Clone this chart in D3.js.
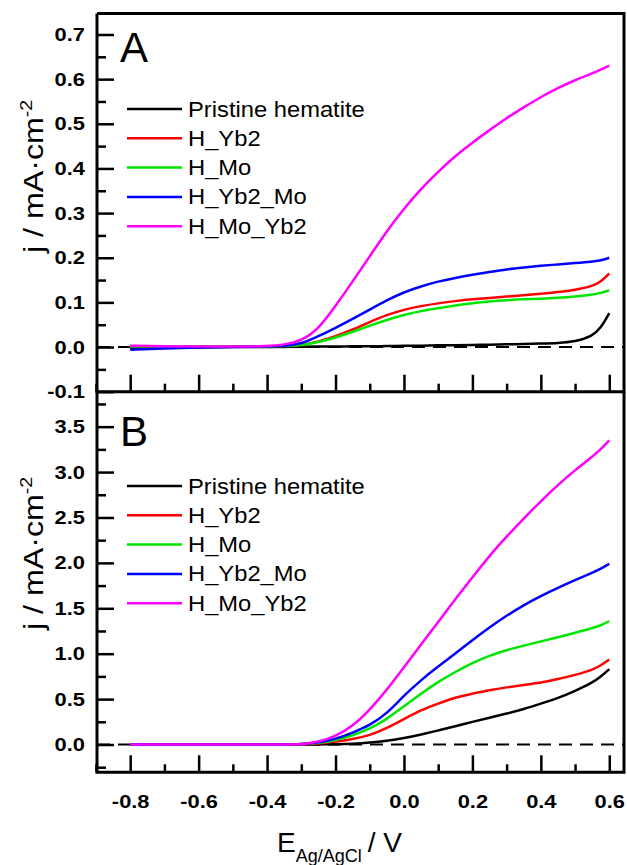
<!DOCTYPE html>
<html>
<head>
<meta charset="utf-8">
<script src="https://d3js.org/d3.v7.min.js"></script>
<style>
	body { margin: 0; background: #fff; }
	svg text { font-family: "Liberation Sans", Arial, sans-serif; fill: #000; }
	.axis path { display: none; }
	.axis line { stroke: #000; stroke-width: 2.5px; }
	.curve { fill: none; stroke-width: 2.5px; stroke-linejoin: round; }
</style>
</head>
<body>
<script>
// potential (V vs Ag/AgCl)
var potential = [-0.8, -0.7, -0.6, -0.5, -0.4, -0.35, -0.3, -0.25, -0.2, -0.15, -0.1, -0.05, 0,
	0.05, 0.1, 0.15, 0.2, 0.25, 0.3, 0.35, 0.4, 0.45, 0.5, 0.55, 0.575, 0.6];

var seriesNames = ["Pristine hematite", "H_Yb2", "H_Mo", "H_Yb2_Mo", "H_Mo_Yb2"];
var seriesColors = ["#000000", "#ff0000", "#00e600", "#0000ff", "#ff00ff"];

// panel A, j / mA cm-2
var pristineA = [-0.002, -0.001, -0.001, 0, 0, 0, 0.001, 0.001, 0.001, 0.002, 0.002, 0.002, 0.003,
	0.003, 0.004, 0.004, 0.005, 0.005, 0.006, 0.007, 0.008, 0.009, 0.012, 0.024, 0.042, 0.076];
var yb2A = [0.002, 0.001, 0.001, 0.001, 0.001, 0.002, 0.004, 0.012, 0.024, 0.039, 0.056, 0.072, 0.084,
	0.092, 0.098, 0.103, 0.107, 0.11, 0.113, 0.116, 0.119, 0.123, 0.128, 0.136, 0.146, 0.165];
var moA = [0.001, 0.001, 0.001, 0.001, 0.001, 0.002, 0.004, 0.011, 0.021, 0.034, 0.048, 0.061, 0.072,
	0.081, 0.087, 0.093, 0.098, 0.102, 0.105, 0.107, 0.108, 0.11, 0.113, 0.117, 0.121, 0.127];
var yb2MoA = [-0.006, -0.003, -0.001, 0, 0.001, 0.002, 0.007, 0.024, 0.043, 0.063, 0.084, 0.105, 0.123,
	0.136, 0.147, 0.155, 0.162, 0.168, 0.174, 0.178, 0.182, 0.185, 0.188, 0.191, 0.194, 0.2];
var moYb2A = [0.003, 0.002, 0.001, 0.001, 0.002, 0.005, 0.014, 0.04, 0.092, 0.147, 0.203, 0.26, 0.31,
	0.355, 0.393, 0.428, 0.458, 0.486, 0.513, 0.537, 0.56, 0.58, 0.598, 0.613, 0.621, 0.63];

// panel B, j / mA cm-2
var pristineB = [0, 0, 0, 0, 0, 0, 0, 0.001, 0.003, 0.008, 0.02, 0.04, 0.07,
	0.11, 0.155, 0.2, 0.25, 0.295, 0.34, 0.39, 0.45, 0.51, 0.59, 0.68, 0.745, 0.83];
var yb2B = [0, 0, 0, 0, 0, 0, 0.002, 0.01, 0.03, 0.06, 0.1, 0.18, 0.28,
	0.38, 0.45, 0.52, 0.56, 0.6, 0.63, 0.655, 0.68, 0.72, 0.765, 0.82, 0.87, 0.935];
var moB = [0, 0, 0, 0, 0, 0, 0.003, 0.015, 0.045, 0.1, 0.17, 0.28, 0.42,
	0.56, 0.69, 0.8, 0.9, 0.98, 1.04, 1.09, 1.135, 1.18, 1.23, 1.28, 1.31, 1.36];
var yb2MoB = [0, 0, 0, 0, 0, 0, 0.003, 0.02, 0.06, 0.13, 0.21, 0.34, 0.54,
	0.71, 0.86, 1.0, 1.15, 1.29, 1.42, 1.535, 1.635, 1.725, 1.81, 1.89, 1.935, 1.99];
var moYb2B = [0, 0, 0, 0, 0, 0, 0.003, 0.025, 0.09, 0.2, 0.38, 0.6, 0.85,
	1.1, 1.35, 1.6, 1.84, 2.08, 2.29, 2.49, 2.68, 2.86, 3.02, 3.17, 3.25, 3.35];

var xMajor = [-0.8, -0.6, -0.4, -0.2, 0, 0.2, 0.4, 0.6];
var xMinor = [-0.9, -0.7, -0.5, -0.3, -0.1, 0.1, 0.3, 0.5];
var yMajorA = [-0.1, 0, 0.1, 0.2, 0.3, 0.4, 0.5, 0.6, 0.7];
var yMinorA = [-0.05, 0.05, 0.15, 0.25, 0.35, 0.45, 0.55, 0.65];
var yMajorB = [0, 0.5, 1, 1.5, 2, 2.5, 3, 3.5];
var yMinorB = [-0.25, 0.25, 0.75, 1.25, 1.75, 2.25, 2.75, 3.25, 3.75];

var width = 627, height = 865;
var left = 97, right = 624;
var topA = 13.5, bottomA = 391.7, bottomB = 772.3;

var svg = d3.select("body").append("svg")
	.attr("width", width)
	.attr("height", height);

var x = d3.scaleLinear().domain([-0.897, 0.643]).range([left, right]);
var yA = d3.scaleLinear().domain([-0.1, 0.747]).range([bottomA, topA]);
var yB = d3.scaleLinear().domain([-0.306, 3.885]).range([bottomB, bottomA]);

var fmt = function(d) { return d.toFixed(1); };

function drawPanel(y, yMajor, yMinor, data, bottom, top, letter, letterY, legendTop, labelStart, showX) {
	var g = svg.append("g");

	// zero line
	g.append("line")
		.attr("x1", left).attr("x2", right)
		.attr("y1", y(0)).attr("y2", y(0))
		.attr("stroke", "#000")
		.attr("stroke-width", 2)
		.attr("stroke-dasharray", "13,8");

	var line = d3.line()
		.x(function(d) { return x(d[0]); })
		.y(function(d) { return y(d[1]); })
		.curve(d3.curveBasis);

	data.forEach(function(vals, i) {
		g.append("path")
			.datum(potential.map(function(p, k) { return [p, vals[k]]; }))
			.attr("class", "curve")
			.attr("stroke", seriesColors[i])
			.attr("d", line);
	});

	// y axis
	var ya = g.append("g").attr("class", "axis")
		.attr("transform", "translate(" + left + ",0)")
		.call(d3.axisLeft(y).tickValues(yMajor).tickSize(-17).tickPadding(10.5).tickFormat(fmt));
	ya.selectAll("text")
		.style("font-size", "19px").style("font-weight", "bold")
		.attr("transform", "scale(1.15,1)");
	g.append("g").attr("class", "axis")
		.attr("transform", "translate(" + left + ",0)")
		.call(d3.axisLeft(y).tickValues(yMinor).tickSize(-9).tickFormat(""));

	// x axis
	var xa = g.append("g").attr("class", "axis")
		.attr("transform", "translate(0," + bottom + ")")
		.call(d3.axisBottom(x).tickValues(xMajor).tickSize(-17).tickPadding(22)
			.tickFormat(showX ? fmt : ""));
	xa.selectAll("text")
		.style("font-size", "19px").style("font-weight", "bold")
		.attr("transform", "scale(1.15,1)");
	g.append("g").attr("class", "axis")
		.attr("transform", "translate(0," + bottom + ")")
		.call(d3.axisBottom(x).tickValues(xMinor).tickSize(-8).tickFormat(""));

	// frame
	g.append("path")
		.attr("d", "M" + left + "," + top + "V" + bottom + "H" + right + "V" + top + (top === topA ? "H" + left : ""))
		.attr("fill", "none")
		.attr("stroke", "#000")
		.attr("stroke-width", 3);

	// panel letter
	g.append("text")
		.attr("x", 120).attr("y", letterY)
		.style("font-size", "42px")
		.text(letter);

	// legend
	seriesNames.forEach(function(name, i) {
		var ly = legendTop + i * 29.3;
		g.append("line")
			.attr("x1", 127).attr("x2", 182)
			.attr("y1", ly).attr("y2", ly)
			.attr("stroke", seriesColors[i])
			.attr("stroke-width", 2.5);
		g.append("text")
			.attr("transform", "translate(188," + (ly + 7.5) + ") scale(1.08,1)")
			.style("font-size", "22px")
			.text(name);
	});

	// y title
	var t = g.append("text")
		.attr("transform", "translate(43," + labelStart + ") rotate(-90) scale(1.15,1)")
		.style("font-size", "28px");
	t.append("tspan").text("j / mA\u00b7cm");
	t.append("tspan").attr("dy", -11).style("font-size", "17px").text("-2");
}

drawPanel(yA, yMajorA, yMinorA, [pristineA, yb2A, moA, yb2MoA, moYb2A], bottomA, topA, "A", 62, 109, 253, false);
drawPanel(yB, yMajorB, yMinorB, [pristineB, yb2B, moB, yb2MoB, moYb2B], bottomB, bottomA, "B", 445.5, 486, 630, true);

// x title
var xt = svg.append("text")
	.attr("x", 277).attr("y", 852)
	.style("font-size", "28px");
xt.append("tspan").text("E");
xt.append("tspan").attr("dy", 10).style("font-size", "18px").text("Ag/AgCl");
xt.append("tspan").attr("dy", -10).attr("dx", 6).text("/ V");
</script>
</body>
</html>
